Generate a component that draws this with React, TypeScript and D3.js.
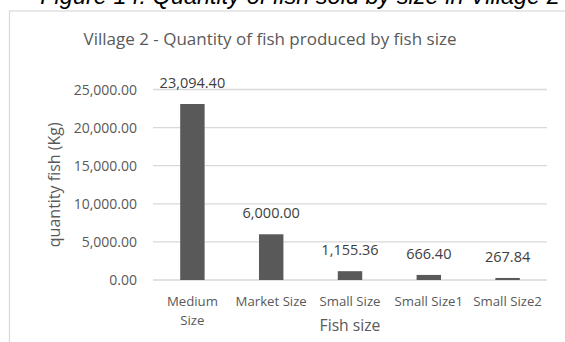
import React from "react";
import * as d3 from "d3";

const categories: string[][] = [["Medium", "Size"], ["Market Size"], ["Small Size"], ["Small Size1"], ["Small Size2"]];
const values: number[] = [23094.4, 6000, 1155.36, 666.4, 267.84];
const yTicks: number[] = [0, 5000, 10000, 15000, 20000, 25000];

const W = 565;
const H = 342;
const FONT = "'Open Sans', sans-serif";
const GREY = "#595959";

export default function App() {
  const left = 153, right = 547, top = 89.5, bottom = 280;
  const x = d3.scaleBand<number>().domain(values.map((_, i) => i)).range([left, right]).paddingInner(0.69).paddingOuter(0.345);
  const y = d3.scaleLinear().domain([0, 25000]).range([bottom, top]);
  const fmt = d3.format(",.2f");

  return (
    <svg width={W} height={H} style={{ position: "absolute", left: 0, top: 0, background: "#fff" }}>
      <text x={300} y={4} textAnchor="middle" fontFamily="'Liberation Sans', Arial, sans-serif" fontStyle="italic" fontSize={23.5} fill="#000">
        Figure 14: Quantity of fish sold by size in Village 2
      </text>
      <rect x={9.5} y={11} width={W + 10} height={H + 10} fill="#fff" stroke="#d9d9d9" strokeWidth={1.2} />
      <text x={270} y={44.5} textAnchor="middle" fontFamily={FONT} fontSize={17} fill={GREY}>
        Village 2 - Quantity of fish produced by fish size
      </text>
      {yTicks.map((t) => (
        <g key={t}>
          <line x1={left} x2={right} y1={y(t)} y2={y(t)} stroke="#d9d9d9" strokeWidth={1.3} />
          <text x={137} y={y(t)} dy="0.36em" textAnchor="end" fontFamily={FONT} fontSize={14} fill={GREY}>
            {fmt(t)}
          </text>
        </g>
      ))}
      {values.map((v, i) => (
        <g key={i}>
          <rect x={x(i)} y={y(v)} width={x.bandwidth()} height={bottom - y(v)} fill={GREY} />
          <text x={(x(i) as number) + x.bandwidth() / 2} y={y(v) - 16} textAnchor="middle" fontFamily={FONT} fontSize={14.5} fill="#404040">
            {fmt(v)}
          </text>
          {categories[i].map((line, j) => (
            <text key={j} x={(x(i) as number) + x.bandwidth() / 2} y={306 + j * 19} textAnchor="middle" fontFamily={FONT} fontSize={13.2} fill={GREY}>
              {line}
            </text>
          ))}
        </g>
      ))}
      <text x={(left + right) / 2} y={330.5} textAnchor="middle" fontFamily={FONT} fontSize={15.7} fill={GREY}>
        Fish size
      </text>
      <text transform={`translate(60,${(top + bottom) / 2}) rotate(-90)`} textAnchor="middle" fontFamily={FONT} fontSize={16} fill={GREY}>
        quantity fish (Kg)
      </text>
    </svg>
  );
}
